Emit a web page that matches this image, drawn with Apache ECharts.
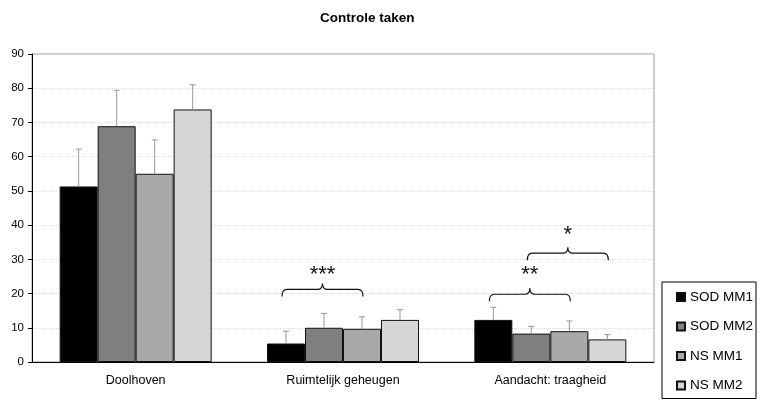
<!DOCTYPE html>
<html>
<head>
<meta charset="utf-8">
<script src="https://cdn.jsdelivr.net/npm/echarts@6/dist/echarts.min.js"></script>
<style>
	html, body { margin: 0; padding: 0; background: #fff; }
	#main { width: 760px; height: 400px; }
</style>
</head>
<body>
<div id="main"></div>
<script>
// categorieen en groepen
var categories = ['Doolhoven', 'Ruimtelijk geheugen', 'Aandacht: traagheid'];
var groups = ['SOD MM1', 'SOD MM2', 'NS MM1', 'NS MM2'];
var colors = ['#000000', '#7f7f7f', '#a9a9a9', '#d6d6d6'];

// gemiddelden
var sodMM1 = [51.3, 5.4, 12.3];
var sodMM2 = [68.9, 10.0, 8.3];
var nsMM1 = [55.0, 9.7, 9.0];
var nsMM2 = [73.8, 12.3, 6.6];

// standaarddeviaties (alleen naar boven getekend)
var sodMM1Sd = [10.9, 3.6, 3.7];
var sodMM2Sd = [10.5, 4.2, 2.1];
var nsMM1Sd = [9.9, 3.5, 3.0];
var nsMM2Sd = [7.2, 3.0, 1.4];

// significantie: categorie, van balk, tot balk, hoogte accolade, hoogte tekst, label
var sigCat = [1, 2, 2];
var sigFrom = [0, 0, 1];
var sigTo = [2, 2, 3];
var sigY = [21.2, 19.8, 31.8];
var sigTextY = [25.5, 25.5, 37];
var sigLabel = ['***', '**', '*'];

var yTicks = [0, 10, 20, 30, 40, 50, 60, 70, 80, 90];

var means = [sodMM1, sodMM2, nsMM1, nsMM2];
var sds = [sodMM1Sd, sodMM2Sd, nsMM1Sd, nsMM2Sd];
var barW = 38;
var font = 'Liberation Sans, Arial, sans-serif';

var myChart = echarts.init(document.getElementById('main'));

var errData = [];
for (var s = 0; s < means.length; s++) {
	for (var c = 0; c < categories.length; c++) {
		errData.push([c, s, means[s][c], means[s][c] + sds[s][c]]);
	}
}
var sigData = [];
for (var i = 0; i < sigLabel.length; i++) {
	sigData.push([sigCat[i], sigFrom[i], sigTo[i], sigY[i], sigTextY[i]]);
}

function barX(api, cat, idx) {
	var cx = api.coord([cat, 0])[0];
	return cx + (idx - 1.5) * barW;
}

var series = [];
for (var s = 0; s < groups.length; s++) {
	series.push({
		name: groups[s],
		type: 'bar',
		data: means[s],
		barWidth: barW,
		barGap: '0%',
		itemStyle: {
			color: colors[s],
			borderColor: '#111',
			borderWidth: 1
		},
		z: 2
	});
}

// foutbalken
series.push({
	type: 'custom',
	name: 'err',
	data: errData,
	z: 3,
	silent: true,
	renderItem: function (params, api) {
		var x = barX(api, api.value(0), api.value(1));
		var y0 = api.coord([api.value(0), api.value(2)])[1];
		var y1 = api.coord([api.value(0), api.value(3)])[1];
		var st = { stroke: '#999', lineWidth: 1 };
		return {
			type: 'group',
			children: [
				{ type: 'line', shape: { x1: x, y1: y0, x2: x, y2: y1 }, style: st },
				{ type: 'line', shape: { x1: x - 3, y1: y1, x2: x + 3, y2: y1 }, style: st }
			]
		};
	}
});

// accolades met sterretjes
series.push({
	type: 'custom',
	name: 'sig',
	data: sigData,
	z: 4,
	silent: true,
	renderItem: function (params, api) {
		var cat = api.value(0);
		var x1 = barX(api, cat, api.value(1)) - 4;
		var x2 = barX(api, cat, api.value(2)) + 1;
		var y = api.coord([cat, api.value(3)])[1];
		var ty = api.coord([cat, api.value(4)])[1];
		var xm = (x1 + x2) / 2;
		var r = 5, tip = 7, peak = 6;
		var d = 'M' + x1 + ' ' + (y + tip) +
			' Q' + x1 + ' ' + y + ' ' + (x1 + r) + ' ' + y +
			' L' + (xm - r) + ' ' + y +
			' Q' + xm + ' ' + y + ' ' + xm + ' ' + (y - peak) +
			' Q' + xm + ' ' + y + ' ' + (xm + r) + ' ' + y +
			' L' + (x2 - r) + ' ' + y +
			' Q' + x2 + ' ' + y + ' ' + x2 + ' ' + (y + tip);
		return {
			type: 'group',
			children: [
				{ type: 'path', shape: { pathData: d }, style: { fill: null, stroke: '#111', lineWidth: 1.2 } },
				{ type: 'text', x: xm, y: ty, style: {
					text: sigLabel[params.dataIndex], fill: '#111', font: '22px ' + font,
					align: 'center', verticalAlign: 'middle'
				} }
			]
		};
	}
});

var option = {
	animation: false,
	backgroundColor: '#fff',
	title: {
		text: 'Controle taken',
		left: 315,
		top: 6,
		textStyle: { fontFamily: font, fontSize: 13.5, fontWeight: 'bold', color: '#000' }
	},
	legend: {
		data: groups,
		orient: 'vertical',
		left: 662,
		top: 282,
		icon: 'rect',
		itemWidth: 8,
		itemHeight: 8,
		itemGap: 15.5,
		padding: [8, 3, 6, 14],
		borderColor: '#000',
		borderWidth: 1,
		textStyle: { fontFamily: font, fontSize: 13.5, color: '#000', lineHeight: 14 }
	},
	grid: {
		left: 32,
		right: 106,
		top: 54,
		bottom: 38,
		show: true,
		borderColor: '#999',
		borderWidth: 1
	},
	xAxis: {
		type: 'category',
		data: categories,
		axisLine: { lineStyle: { color: '#000', width: 1 } },
		axisTick: { length: 5, lineStyle: { color: '#000' } },
		axisLabel: { fontFamily: font, fontSize: 12.5, color: '#000', margin: 12 }
	},
	yAxis: {
		type: 'value',
		min: yTicks[0],
		max: yTicks[yTicks.length - 1],
		interval: 10,
		axisLine: { show: true, lineStyle: { color: '#000', width: 1 } },
		axisTick: { show: true, length: 4, lineStyle: { color: '#000' } },
		axisLabel: { fontFamily: font, fontSize: 11.5, color: '#000', margin: 8 },
		splitLine: { lineStyle: { color: '#dcdcdc', type: 'dotted', width: 1 } }
	},
	series: series
};

myChart.setOption(option, true);
</script>
</body>
</html>
